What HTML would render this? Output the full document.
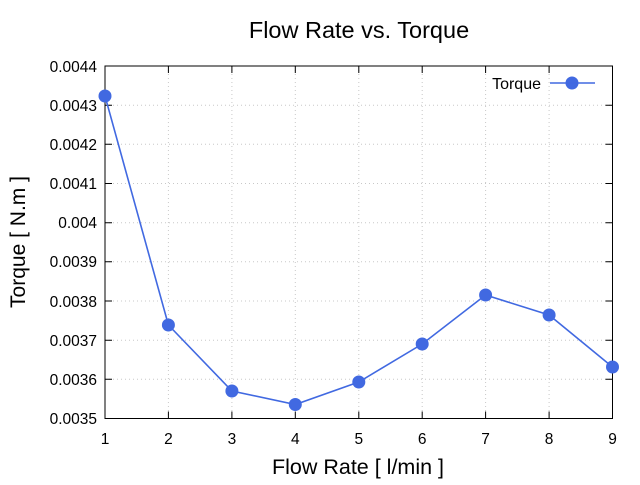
<!DOCTYPE html>
<html><head><style>body{margin:0;background:#fff}</style></head><body>
<svg width="640" height="480" xmlns="http://www.w3.org/2000/svg" font-family="Liberation Sans, DejaVu Sans, sans-serif">
<rect width="640" height="480" fill="#fff"/>
<g stroke="#c8c8c8" stroke-dasharray="1,3" stroke-width="1">
<line x1="105" y1="105.2" x2="612.5" y2="105.2"/><line x1="105" y1="144.3" x2="612.5" y2="144.3"/><line x1="105" y1="183.5" x2="612.5" y2="183.5"/><line x1="105" y1="222.7" x2="612.5" y2="222.7"/><line x1="105" y1="261.8" x2="612.5" y2="261.8"/><line x1="105" y1="301" x2="612.5" y2="301"/><line x1="105" y1="340.2" x2="612.5" y2="340.2"/><line x1="105" y1="379.3" x2="612.5" y2="379.3"/>
<line x1="168.4" y1="66" x2="168.4" y2="418.5"/><line x1="231.9" y1="66" x2="231.9" y2="418.5"/><line x1="295.3" y1="66" x2="295.3" y2="418.5"/><line x1="358.8" y1="66" x2="358.8" y2="418.5"/><line x1="422.2" y1="66" x2="422.2" y2="418.5"/><line x1="485.6" y1="66" x2="485.6" y2="418.5"/><line x1="549.1" y1="66" x2="549.1" y2="418.5"/>
</g>
<rect x="105" y="66" width="507.5" height="352.5" fill="none" stroke="#000" stroke-width="1"/>
<g stroke="#000" stroke-width="1">
<path d="M105 105.2h7M105 144.3h7M105 183.5h7M105 222.7h7M105 261.8h7M105 301h7M105 340.2h7M105 379.3h7"/>
<path d="M612.5 105.2h-7M612.5 144.3h-7M612.5 183.5h-7M612.5 222.7h-7M612.5 261.8h-7M612.5 301h-7M612.5 340.2h-7M612.5 379.3h-7"/>
<path d="M168.4 418.5v-7M231.9 418.5v-7M295.3 418.5v-7M358.8 418.5v-7M422.2 418.5v-7M485.6 418.5v-7M549.1 418.5v-7"/>
<path d="M168.4 66v7M231.9 66v7M295.3 66v7M358.8 66v7M422.2 66v7M485.6 66v7M549.1 66v7"/>
</g>
<g font-size="15.5" text-anchor="end" fill="#000">
<text x="97" y="72">0.0044</text><text x="97" y="111">0.0043</text><text x="97" y="150">0.0042</text><text x="97" y="189">0.0041</text><text x="97" y="228">0.004</text><text x="97" y="267">0.0039</text><text x="97" y="307">0.0038</text><text x="97" y="346">0.0037</text><text x="97" y="385">0.0036</text><text x="97" y="424">0.0035</text>
</g>
<g font-size="15.5" text-anchor="middle">
<text x="105" y="444">1</text><text x="168.4" y="444">2</text><text x="231.9" y="444">3</text><text x="295.3" y="444">4</text><text x="358.8" y="444">5</text><text x="422.2" y="444">6</text><text x="485.6" y="444">7</text><text x="549.1" y="444">8</text><text x="612.5" y="444">9</text>
</g>
<text x="359" y="38" font-size="23.5" text-anchor="middle">Flow Rate vs. Torque</text>
<text x="358" y="474" font-size="21.5" text-anchor="middle">Flow Rate [ l/min ]</text>
<text transform="translate(25,242) rotate(-90)" font-size="21" text-anchor="middle">Torque [ N.m ]</text>
<polyline fill="none" stroke="#4169e1" stroke-width="1.6" points="105,96 168.4,325 231.9,391 295.3,404.5 358.8,382 422.2,344 485.6,295 549.1,315 612.5,367"/>
<g fill="#4169e1">
<circle cx="105" cy="96" r="6.5"/><circle cx="168.4" cy="325" r="6.5"/><circle cx="231.9" cy="391" r="6.5"/><circle cx="295.3" cy="404.5" r="6.5"/><circle cx="358.8" cy="382" r="6.5"/><circle cx="422.2" cy="344" r="6.5"/><circle cx="485.6" cy="295" r="6.5"/><circle cx="549.1" cy="315" r="6.5"/><circle cx="612.5" cy="367" r="6.5"/>
<circle cx="572" cy="83" r="6.5"/>
</g>
<line x1="550" y1="83" x2="595" y2="83" stroke="#4169e1" stroke-width="1.6"/>
<text x="541" y="89" font-size="16" text-anchor="end">Torque</text>
</svg>
</body></html>
